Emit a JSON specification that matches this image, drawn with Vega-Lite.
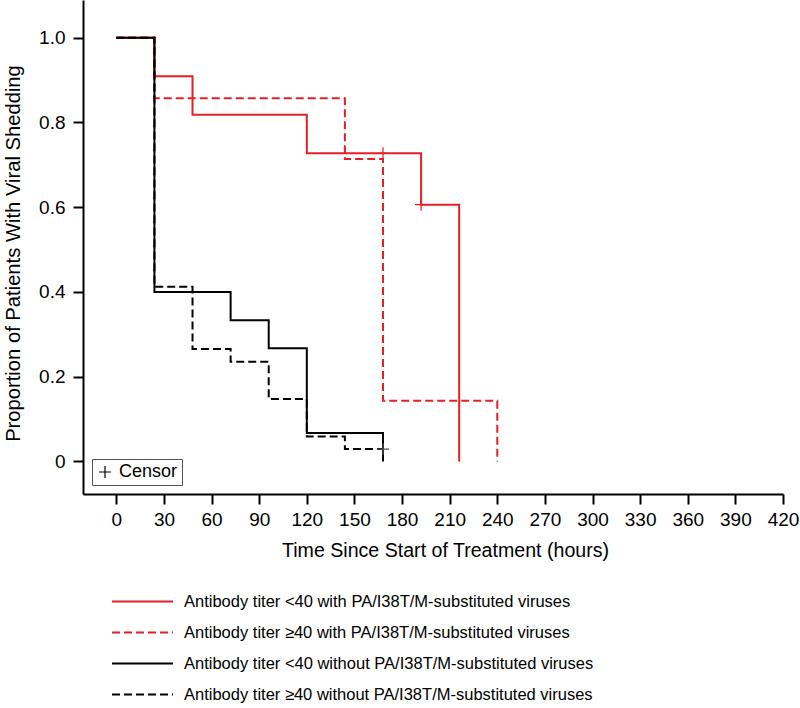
{
  "$schema": "https://vega.github.io/schema/vega-lite/v6.json",
  "width": 700,
  "height": 494,
  "autosize": {"type": "none"},
  "padding": {"left": 83, "top": 0, "right": 17, "bottom": 214},
  "background": "white",
  "config": {
    "view": {"stroke": null},
    "font": "Liberation Sans",
    "axis": {
      "grid": false,
      "domainColor": "black",
      "domainWidth": 2,
      "tickColor": "black",
      "tickWidth": 2,
      "tickSize": 10,
      "labelFont": "Liberation Sans",
      "labelFontSize": 19,
      "labelColor": "black",
      "labelFlush": false,
      "labelOverlap": false,
      "titleFont": "Liberation Sans",
      "titleFontSize": 19.6,
      "titleFontWeight": "normal",
      "titleColor": "black"
    },
    "legend": {
      "labelFont": "Liberation Sans",
      "labelFontSize": 16.5,
      "labelColor": "black",
      "padding": 0
    }
  },
  "datasets": {
    "curves": [
      {"group": "Antibody titer <40 with PA/I38T/M-substituted viruses", "time": 0, "surv": 1.0},
      {"group": "Antibody titer <40 with PA/I38T/M-substituted viruses", "time": 24, "surv": 0.909},
      {"group": "Antibody titer <40 with PA/I38T/M-substituted viruses", "time": 48, "surv": 0.818},
      {"group": "Antibody titer <40 with PA/I38T/M-substituted viruses", "time": 120, "surv": 0.727},
      {"group": "Antibody titer <40 with PA/I38T/M-substituted viruses", "time": 192, "surv": 0.606},
      {"group": "Antibody titer <40 with PA/I38T/M-substituted viruses", "time": 216, "surv": 0.0},
      {"group": "Antibody titer ≥40 with PA/I38T/M-substituted viruses", "time": 0, "surv": 1.0},
      {"group": "Antibody titer ≥40 with PA/I38T/M-substituted viruses", "time": 24, "surv": 0.857},
      {"group": "Antibody titer ≥40 with PA/I38T/M-substituted viruses", "time": 144, "surv": 0.714},
      {"group": "Antibody titer ≥40 with PA/I38T/M-substituted viruses", "time": 168, "surv": 0.143},
      {"group": "Antibody titer ≥40 with PA/I38T/M-substituted viruses", "time": 240, "surv": 0.0},
      {"group": "Antibody titer <40 without PA/I38T/M-substituted viruses", "time": 0, "surv": 1.0},
      {"group": "Antibody titer <40 without PA/I38T/M-substituted viruses", "time": 24, "surv": 0.4},
      {"group": "Antibody titer <40 without PA/I38T/M-substituted viruses", "time": 72, "surv": 0.333},
      {"group": "Antibody titer <40 without PA/I38T/M-substituted viruses", "time": 96, "surv": 0.267},
      {"group": "Antibody titer <40 without PA/I38T/M-substituted viruses", "time": 120, "surv": 0.067},
      {"group": "Antibody titer <40 without PA/I38T/M-substituted viruses", "time": 168, "surv": 0.0},
      {"group": "Antibody titer ≥40 without PA/I38T/M-substituted viruses", "time": 0, "surv": 1.0},
      {"group": "Antibody titer ≥40 without PA/I38T/M-substituted viruses", "time": 24, "surv": 0.412},
      {"group": "Antibody titer ≥40 without PA/I38T/M-substituted viruses", "time": 48, "surv": 0.265},
      {"group": "Antibody titer ≥40 without PA/I38T/M-substituted viruses", "time": 72, "surv": 0.235},
      {"group": "Antibody titer ≥40 without PA/I38T/M-substituted viruses", "time": 96, "surv": 0.147},
      {"group": "Antibody titer ≥40 without PA/I38T/M-substituted viruses", "time": 120, "surv": 0.059},
      {"group": "Antibody titer ≥40 without PA/I38T/M-substituted viruses", "time": 144, "surv": 0.029},
      {"group": "Antibody titer ≥40 without PA/I38T/M-substituted viruses", "time": 168, "surv": 0.029}
    ],
    "censors": [
      {"group": "Antibody titer <40 with PA/I38T/M-substituted viruses", "time": 168, "surv": 0.727, "event": "Censor"},
      {"group": "Antibody titer <40 with PA/I38T/M-substituted viruses", "time": 192, "surv": 0.606, "event": "Censor"},
      {"group": "Antibody titer ≥40 without PA/I38T/M-substituted viruses", "time": 168, "surv": 0.029, "event": "Censor"}
    ]
  },
  "encoding": {
    "x": {
      "field": "time",
      "type": "quantitative",
      "scale": {"domain": [-21, 420], "nice": false, "zero": false},
      "axis": {
        "values": [0, 30, 60, 90, 120, 150, 180, 210, 240, 270, 300, 330, 360, 390, 420],
        "title": "Time Since Start of Treatment (hours)",
        "labelPadding": 6,
        "titlePadding": 12,
        "titleX": 362,
        "titleAlign": "center"
      }
    },
    "y": {
      "field": "surv",
      "type": "quantitative",
      "scale": {"domain": [-0.077, 1.089], "nice": false, "zero": false},
      "axis": {
        "values": [0, 0.2, 0.4, 0.6, 0.8, 1.0],
        "labelExpr": "datum.value == 0 ? '0' : format(datum.value, '.1f')",
        "title": "Proportion of Patients With Viral Shedding",
        "titleFontSize": 20.2,
        "labelPadding": 8,
        "titlePadding": 15,
        "titleY": 253,
        "titleAlign": "center"
      }
    }
  },
  "layer": [
    {
      "data": {"name": "curves"},
      "transform": [{"filter": {"field": "group", "equal": "Antibody titer ≥40 with PA/I38T/M-substituted viruses"}}],
      "mark": {"type": "line", "interpolate": "step-after", "strokeWidth": 2},
      "encoding": {
        "color": {"field": "group", "type": "nominal"},
        "strokeDash": {"field": "group", "type": "nominal"}
      }
    },
    {
      "data": {"name": "curves"},
      "transform": [{"filter": {"field": "group", "equal": "Antibody titer <40 with PA/I38T/M-substituted viruses"}}],
      "mark": {"type": "line", "interpolate": "step-after", "strokeWidth": 2},
      "encoding": {
        "color": {"field": "group", "type": "nominal"},
        "strokeDash": {"field": "group", "type": "nominal"}
      }
    },
    {
      "data": {"name": "curves"},
      "transform": [{"filter": {"field": "group", "equal": "Antibody titer ≥40 without PA/I38T/M-substituted viruses"}}],
      "mark": {"type": "line", "interpolate": "step-after", "strokeWidth": 2},
      "encoding": {
        "color": {"field": "group", "type": "nominal"},
        "strokeDash": {"field": "group", "type": "nominal"}
      }
    },
    {
      "data": {"name": "curves"},
      "transform": [{"filter": {"field": "group", "equal": "Antibody titer <40 without PA/I38T/M-substituted viruses"}}],
      "mark": {"type": "line", "interpolate": "step-after", "strokeWidth": 2},
      "encoding": {
        "color": {
          "field": "group",
          "type": "nominal",
          "scale": {
            "domain": [
              "Antibody titer <40 with PA/I38T/M-substituted viruses",
              "Antibody titer ≥40 with PA/I38T/M-substituted viruses",
              "Antibody titer <40 without PA/I38T/M-substituted viruses",
              "Antibody titer ≥40 without PA/I38T/M-substituted viruses"
            ],
            "range": ["#e41f26", "#e41f26", "#000000", "#000000"]
          },
          "legend": {
            "title": null,
            "orient": "none",
            "legendX": 28,
            "legendY": 587,
            "direction": "vertical",
            "symbolType": "stroke",
            "symbolSize": 3721,
            "symbolStrokeWidth": 2,
            "clipHeight": 29,
            "rowPadding": 2,
            "labelOffset": 10,
            "labelLimit": 600
          }
        },
        "strokeDash": {
          "field": "group",
          "type": "nominal",
          "scale": {
            "domain": [
              "Antibody titer <40 with PA/I38T/M-substituted viruses",
              "Antibody titer ≥40 with PA/I38T/M-substituted viruses",
              "Antibody titer <40 without PA/I38T/M-substituted viruses",
              "Antibody titer ≥40 without PA/I38T/M-substituted viruses"
            ],
            "range": [[1, 0], [8, 4], [1, 0], [8, 4]]
          },
          "legend": {
            "title": null,
            "orient": "none",
            "legendX": 28,
            "legendY": 587,
            "direction": "vertical",
            "symbolType": "stroke",
            "symbolSize": 3721,
            "symbolStrokeWidth": 2,
            "clipHeight": 29,
            "rowPadding": 2,
            "labelOffset": 10,
            "labelLimit": 600
          }
        }
      }
    },
    {
      "data": {"name": "censors"},
      "transform": [{"filter": {"field": "group", "equal": "Antibody titer ≥40 without PA/I38T/M-substituted viruses"}}],
      "mark": {"type": "point", "filled": false, "size": 144, "strokeWidth": 1.2, "color": "#555555", "opacity": 1},
      "encoding": {
        "shape": {
          "field": "event",
          "type": "nominal",
          "scale": {"domain": ["Censor"], "range": ["M-1,0H1M0,-1V1"]},
          "legend": {
            "title": null,
            "orient": "bottom-left",
            "offset": 9,
            "padding": 4,
            "strokeColor": "#555555",
            "symbolStrokeColor": "black",
            "symbolFillColor": "transparent",
            "symbolStrokeWidth": 1.2,
            "symbolSize": 144,
            "labelOffset": 5,
            "labelFontSize": 18
          }
        }
      }
    },
    {
      "data": {"name": "censors"},
      "transform": [{"filter": {"field": "group", "equal": "Antibody titer <40 with PA/I38T/M-substituted viruses"}}],
      "mark": {"type": "point", "filled": false, "size": 144, "strokeWidth": 1.2, "color": "#e41f26", "opacity": 1},
      "encoding": {
        "shape": {"field": "event", "type": "nominal"}
      }
    }
  ]
}
